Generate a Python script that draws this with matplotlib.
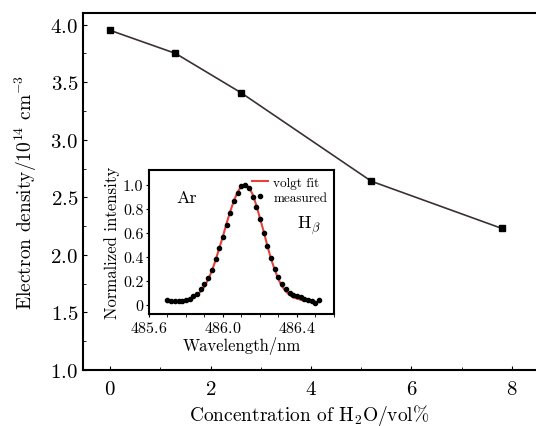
import matplotlib
matplotlib.use("Agg")
import matplotlib.pyplot as plt
from matplotlib.ticker import MultipleLocator

plt.rcParams['font.family'] = 'serif'
plt.rcParams['font.serif'] = ['cmr10']
plt.rcParams['mathtext.fontset'] = 'cm'
plt.rcParams['axes.formatter.use_mathtext'] = True

# main data: electron density vs water concentration
conc = [0.0, 1.3, 2.6, 5.2, 7.8]
density = [3.95, 3.75, 3.41, 2.64, 2.23]

# inset data: H-beta line profile
wl = [485.70, 485.72, 485.74, 485.76, 485.78, 485.80, 485.82, 485.84, 485.86,
      485.88, 485.90, 485.92, 485.94, 485.96, 485.98, 486.00, 486.02, 486.04,
      486.06, 486.08, 486.10, 486.12, 486.14, 486.16, 486.18, 486.20, 486.22,
      486.24, 486.26, 486.28, 486.30, 486.32, 486.34, 486.36, 486.38, 486.40,
      486.42, 486.44, 486.46, 486.48, 486.50, 486.52]
measured = [0.04, 0.03, 0.03, 0.03, 0.03, 0.04, 0.05, 0.07, 0.09, 0.13, 0.17,
            0.22, 0.29, 0.38, 0.47, 0.56, 0.66, 0.76, 0.86, 0.93, 0.99, 1.00,
            0.97, 0.90, 0.81, 0.71, 0.60, 0.49, 0.39, 0.30, 0.23, 0.17, 0.13,
            0.10, 0.08, 0.07, 0.06, 0.05, 0.04, 0.03, 0.01, 0.04]
fit = [0.02, 0.02, 0.02, 0.03, 0.03, 0.04, 0.05, 0.06, 0.08, 0.11, 0.15,
       0.21, 0.28, 0.37, 0.47, 0.57, 0.68, 0.78, 0.87, 0.94, 0.99, 1.00,
       0.98, 0.92, 0.83, 0.72, 0.61, 0.49, 0.38, 0.29, 0.21, 0.15, 0.11,
       0.08, 0.06, 0.05, 0.04, 0.03, 0.03, 0.02, 0.02, 0.02]

fig = plt.figure(figsize=(5.36, 4.27), dpi=100)
ax = fig.add_axes([0.155, 0.131, 0.845, 0.836])
ax.plot(conc, density, color='#3a3232', lw=1.2, marker='s', ms=5,
        mfc='black', mec='black')
ax.set_xlim(-0.54, 8.48)
ax.set_ylim(1.0, 4.1)
ax.xaxis.set_major_locator(MultipleLocator(2))
ax.xaxis.set_minor_locator(MultipleLocator(1))
ax.yaxis.set_major_locator(MultipleLocator(0.5))
ax.yaxis.set_minor_locator(MultipleLocator(0.25))
ax.tick_params(which='both', direction='in', labelsize=15)
ax.tick_params(axis='x', pad=7)
ax.tick_params(which='major', length=3)
ax.tick_params(which='minor', length=2)
ax.spines['right'].set_visible(False)
for s in ['left', 'top', 'bottom']:
    ax.spines[s].set_linewidth(1.5)
ax.set_xlabel('Concentration of H$_2$O/vol%', fontsize=14, labelpad=3)
ax.set_ylabel('Electron density/10$^{14}$ cm$^{-3}$', fontsize=14, labelpad=8)

# inset
ins = fig.add_axes([0.278, 0.262, 0.345, 0.337])
ins.plot(wl, fit, color='#e8403a', lw=1.5, label='volgt fit')
ins.plot(wl, measured, 'o', color='black', ms=3, label='measured')
ins.set_xlim(485.6, 486.6)
ins.set_ylim(-0.08, 1.12)
ins.set_xticks([485.6, 486.0, 486.4])
ins.xaxis.set_minor_locator(MultipleLocator(0.1))
ins.set_yticks([0, 0.2, 0.4, 0.6, 0.8, 1.0])
ins.set_yticklabels(['0', '0.2', '0.4', '0.6', '0.8', '1.0'])
ins.tick_params(which='both', direction='out', labelsize=11.5, length=2, pad=2)
for s in ins.spines.values():
    s.set_linewidth(1.5)
ins.set_xlabel('Wavelength/nm', fontsize=12, labelpad=1)
ins.set_ylabel('Normalized intensity', fontsize=12, labelpad=2)
ins.text(0.15, 0.78, 'Ar', transform=ins.transAxes, fontsize=13)
ins.text(0.8, 0.6, r'H$_\beta$', transform=ins.transAxes, fontsize=13)
ins.legend(loc='upper right', frameon=False, fontsize=9.5, handlelength=1.2,
           handletextpad=0.4, borderaxespad=0.1, labelspacing=0.2)

fig.savefig('out.png', dpi=100)
